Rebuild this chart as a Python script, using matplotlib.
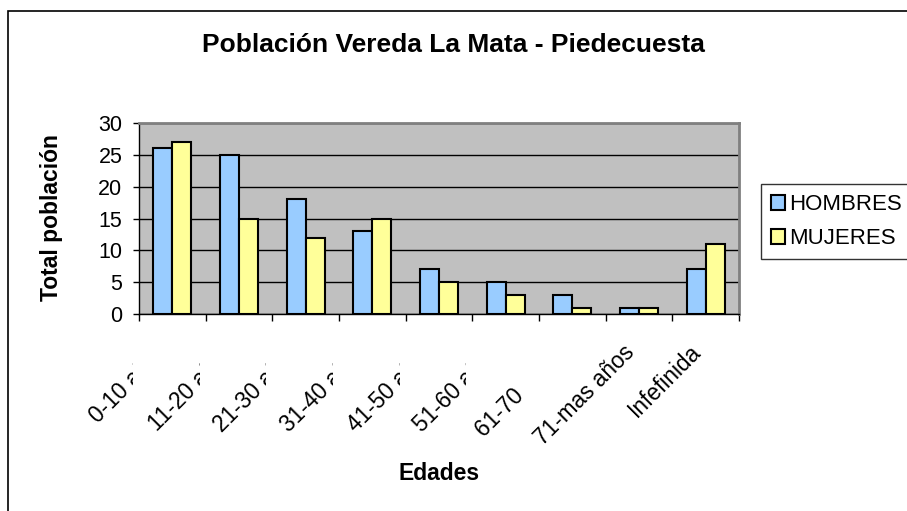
import numpy as np
import matplotlib.pyplot as plt
from matplotlib.patches import Rectangle
from matplotlib.transforms import Bbox, TransformedBbox, ScaledTranslation

plt.rcParams['font.family'] = ['Liberation Sans', 'DejaVu Sans']

edades = ["0-10 años", "11-20 años", "21-30 años", "31-40 años", "41-50 años",
          "51-60 años", "61-70          ", "71-mas años", "Infefinida"]
hombres = [26, 25, 18, 13, 7, 5, 3, 1, 7]
mujeres = [27, 15, 12, 15, 5, 3, 1, 1, 11]

fig = plt.figure(figsize=(9.07, 5.11), dpi=100)
fig.patches.append(Rectangle((8 / 907, -0.1), 2, 1.1 - 11 / 511, transform=fig.transFigure,
                             fill=False, edgecolor='black', linewidth=1.2))

ax = fig.add_axes([139 / 907, 197 / 511, 600 / 907, 191 / 511])
ax.set_facecolor('#C0C0C0')

x = np.arange(len(edades))
w = 0.285
ax.bar(x - w / 2, hombres, w, color='#99CCFF', edgecolor='black', linewidth=1.5,
       label='HOMBRES', zorder=3)
ax.bar(x + w / 2, mujeres, w, color='#FFFF99', edgecolor='black', linewidth=1.5,
       label='MUJERES', zorder=3)

ax.set_xlim(-0.5, len(edades) - 0.5)
ax.set_ylim(0, 30)
ax.set_yticks(range(0, 31, 5))
ax.tick_params(axis='y', labelsize=15.5, direction='out', length=4, width=1, pad=8)
ax.yaxis.grid(True, color='black', linewidth=1, zorder=1)
ax.set_axisbelow(True)

ax.set_xticks(np.arange(len(edades) + 1) - 0.5)
ax.set_xticklabels([])
ax.tick_params(axis='x', direction='out', length=5, width=1)
ax.set_xticks(x, minor=True)
ax.set_xticklabels(edades, minor=True, rotation=45, ha='right', va='top',
                   rotation_mode='anchor', fontsize=16.3)
ax.tick_params(axis='x', which='minor', length=0, pad=19)

# Excel cuts the long labels at the edge of their slot
shift = ScaledTranslation(-16 / 100, 0, fig.dpi_scale_trans)
for i, lbl in enumerate(ax.xaxis.get_minorticklabels()):
    lbl.set_transform(lbl.get_transform() + shift)
    if i < 6:
        clip = TransformedBbox(Bbox([[-10, -5], [i - 0.59, 5]]), ax.get_xaxis_transform())
        lbl.set_clip_box(clip)
        lbl.set_clip_on(True)

for s in ['left', 'bottom']:
    ax.spines[s].set_color('black')
    ax.spines[s].set_linewidth(1)
for s in ['top', 'right']:
    ax.spines[s].set_color('#808080')
    ax.spines[s].set_linewidth(2)

fig.text(453 / 907, 1 - 45 / 511, "Población Vereda La Mata - Piedecuesta",
         ha='center', va='center', fontsize=19, fontweight='bold')
fig.text(52 / 907, 1 - 218 / 511, "Total población", rotation=90,
         ha='center', va='center', fontsize=16.5, fontweight='bold')
fig.text(439 / 907, 1 - 474 / 511, "Edades",
         ha='center', va='center', fontsize=16.5, fontweight='bold')

leg = ax.legend(loc='upper left', bbox_to_anchor=(761 / 907, 1 - 184 / 511),
                bbox_transform=fig.transFigure, fontsize=16, frameon=True,
                fancybox=False, edgecolor='black', handlelength=0.65, handleheight=0.65,
                handletextpad=0.15, borderpad=0.45, labelspacing=0.6, borderaxespad=0)
leg.get_frame().set_linewidth(1)

fig.savefig('out.png', dpi=100)
